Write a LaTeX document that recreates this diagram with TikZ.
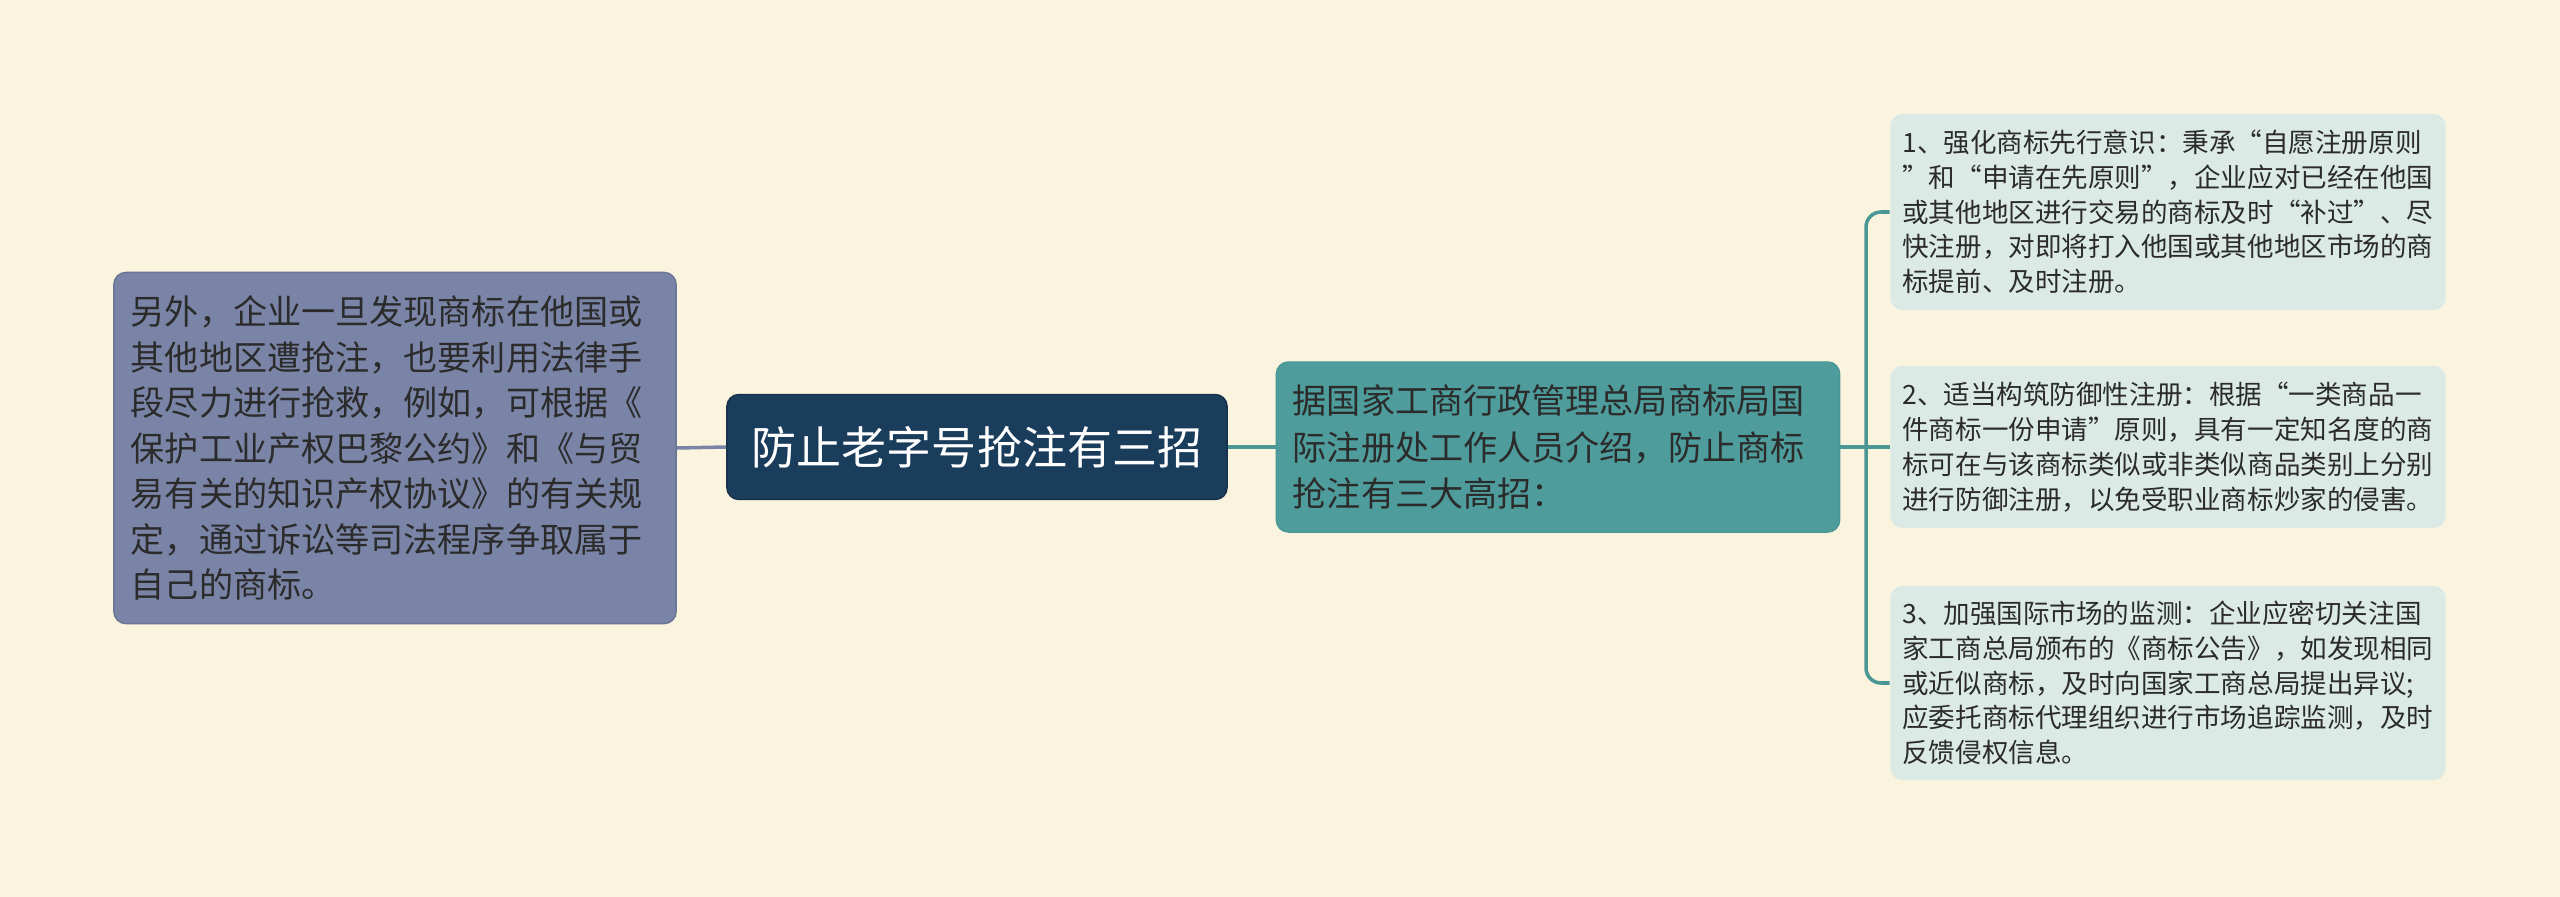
\documentclass[tikz,border=0pt]{standalone}
\usepackage{fontspec}
\setmainfont{Noto Sans CJK SC}
\usetikzlibrary{positioning}

\definecolor{bgcream}{HTML}{FAF4DF}
\definecolor{slatefill}{HTML}{7A84A6}
\definecolor{slateline}{HTML}{6A7496}
\definecolor{navyfill}{HTML}{1B3D5C}
\definecolor{tealfill}{HTML}{4E9D9C}
\definecolor{tealline}{HTML}{4A9796}
\definecolor{mistfill}{HTML}{DCEAE6}
\definecolor{inkdark}{HTML}{2B2B2B}

\begin{document}
\begin{tikzpicture}[x=0.01cm,y=-0.01cm,
    leftbox/.style={rounded corners=0.12cm, fill=slatefill, draw=slateline, line width=0.4pt,
        text=inkdark, align=left, text width=5.28cm, inner sep=0pt,
        font=\fontsize{9.7}{12.95}\selectfont},
    rootbox/.style={rounded corners=0.12cm, fill=navyfill, draw=navyfill!80!black, line width=0.4pt,
        text=white, inner sep=0pt, font=\fontsize{12.8}{15}\selectfont},
    midbox/.style={rounded corners=0.12cm, fill=tealfill, draw=tealline, line width=0.4pt,
        text=inkdark, align=left, text width=5.3cm, inner sep=0pt,
        font=\fontsize{9.7}{13.2}\selectfont},
    tipbox/.style={rounded corners=0.12cm, fill=mistfill, text=inkdark, align=left,
        text width=5.31cm, inner sep=0pt, minimum width=5.55cm,
        font=\fontsize{7.55}{9.9}\selectfont},
    slatelink/.style={draw=slatefill, line width=1pt},
    teallink/.style={draw=tealline, line width=1pt}]

    % 背景
    \fill[bgcream] (0,0) rectangle (2560,897);
    \useasboundingbox (0,0) rectangle (2560,897);

    % 中心主题
    \node[rootbox, minimum width=5.0cm, minimum height=1.05cm] (root) at (977,447) {防止老字号抢注有三招};

    % 左侧分支
    \node[leftbox, minimum width=5.62cm, minimum height=3.51cm] (extra) at (395,448) {另外，企业一旦发现商标在他国或\\其他地区遭抢注，也要利用法律手\\段尽力进行抢救，例如，可根据《\\保护工业产权巴黎公约》和《与贸\\易有关的知识产权协议》的有关规\\定，通过诉讼等司法程序争取属于\\自己的商标。};

    % 右侧分支
    \node[midbox, minimum width=5.63cm, minimum height=1.70cm] (intro) at (1558,447) {据国家工商行政管理总局商标局国\\际注册处工作人员介绍，防止商标\\抢注有三大高招：};

    % 三大高招
    \node[tipbox, minimum height=1.96cm] (tip1) at (2168,212) {1、强化商标先行意识：秉承“自愿注册原则\\”和“申请在先原则”，企业应对已经在他国\\或其他地区进行交易的商标及时“补过”、尽\\快注册，对即将打入他国或其他地区市场的商\\标提前、及时注册。};
    \node[tipbox, minimum height=1.62cm] (tip2) at (2168,447) {2、适当构筑防御性注册：根据“一类商品一\\件商标一份申请”原则，具有一定知名度的商\\标可在与该商标类似或非类似商品类别上分别\\进行防御注册，以免受职业商标炒家的侵害。};
    \node[tipbox, minimum height=1.94cm] (tip3) at (2168,683) {3、加强国际市场的监测：企业应密切关注国\\家工商总局颁布的《商标公告》，如发现相同\\或近似商标，及时向国家工商总局提出异议;\\应委托商标代理组织进行市场追踪监测，及时\\反馈侵权信息。};

    % 连线
    \coordinate (fork) at (1866,447);
    \draw[slatelink] (root.west) -- (extra.east);
    \draw[teallink] (root.east) -- (intro.west);
    \draw[teallink] (intro.east) -- (tip2.west);
    \draw[teallink, rounded corners=0.15cm] (tip1.west) -| (fork) |- (tip3.west);

\end{tikzpicture}
\end{document}
